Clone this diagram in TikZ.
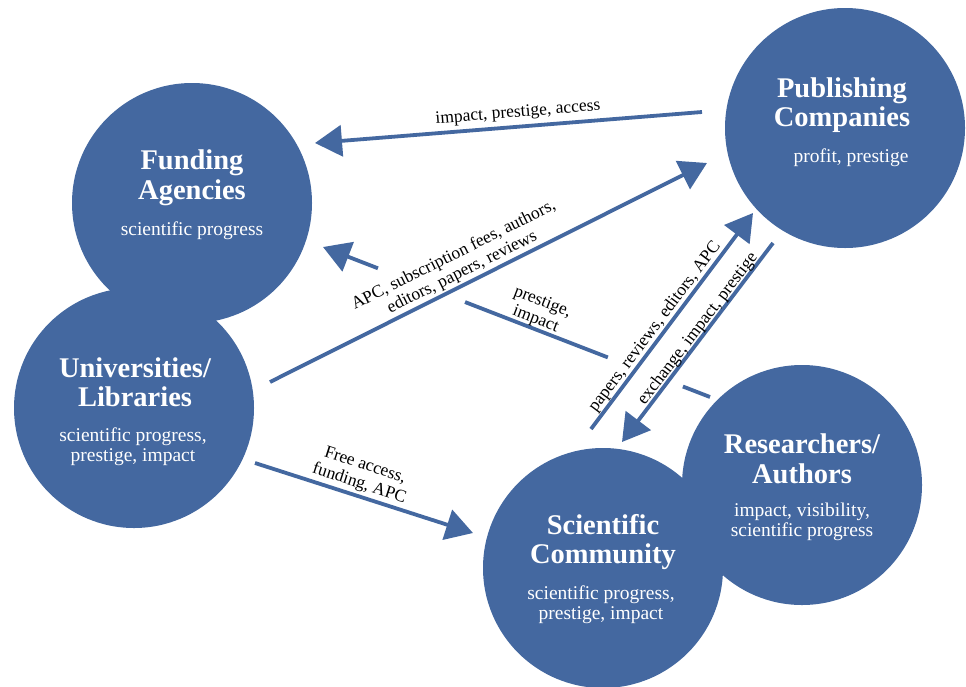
\documentclass[tikz,border=0pt]{standalone}
\usepackage{fontspec}
\setmainfont{Liberation Serif}
\usetikzlibrary{arrows.meta,calc}
\definecolor{nodeblue}{RGB}{68,104,160}
\begin{document}
\begin{tikzpicture}[x=1pt,y=-1pt,
  blob/.style={circle,fill=nodeblue,draw=none,minimum size=240pt,inner sep=0pt},
  ttl/.style={text=white,font=\fontsize{28.5}{29.5}\selectfont\bfseries,align=center,inner sep=0pt},
  sub/.style={text=white,font=\fontsize{19.5}{20}\selectfont,align=center,inner sep=0pt},
  lbl/.style={text=black,font=\fontsize{17.5}{19}\selectfont,align=center,inner sep=0pt},
  conn/.style={draw=nodeblue,line width=3.8pt,-{Triangle[length=27pt,width=31pt]}},
  plainconn/.style={draw=nodeblue,line width=3.8pt},
]
\fill[white] (0,0) rectangle (966,686);
\useasboundingbox (0,0) rectangle (966,686);

% circles
\node[blob] (fund) at (192,203) {};
\node[blob] (univ) at (134,408) {};
\node[blob] (pub)  at (845,128) {};
\node[blob] (sci)  at (603,568) {};
\node[blob] (res)  at (802,485) {};

% texts in circles
\node[ttl] (fundT) at (192,178) {Funding\\Agencies};
\node[sub] (fundS) at (192,231) {scientific progress};
\node[ttl] (pubT) at (842,105) {Publishing\\Companies};
\node[sub] (pubS) at (851,158) {profit, prestige};
\node[ttl] (univT) at (135,382) {Universities/\\Libraries};
\node[sub] (univS) at (133,447) {scientific progress,\\prestige, impact};
\node[ttl] (sciT) at (603,542) {Scientific\\Community};
\node[sub] (sciS) at (601,605) {scientific progress,\\prestige, impact};
\node[ttl] (resT) at (802,459) {Researchers/\\Authors};
\node[sub] (resS) at (802,522) {impact, visibility,\\scientific progress};

% connector end points
\coordinate (a1s) at (702,112);
\coordinate (a1e) at (315,143);
\coordinate (a2s) at (270,382);
\coordinate (a2e) at (707,163);
\coordinate (a3s) at (255,463);
\coordinate (a3e) at (473,533);
\coordinate (a4s) at (591,429);
\coordinate (a4e) at (753,213);
\coordinate (a5s) at (773,243);
\coordinate (a5e) at (622,442);
\coordinate (a6s) at (710,397);
\coordinate (a6e) at (323,247);

% connectors
\draw[conn] (a1s) -- (a1e);
\draw[conn] (a2s) -- (a2e);
\draw[conn] (a3s) -- (a3e);
\draw[conn] (a4s) -- (a4e);
\draw[conn] (a5s) -- (a5e);
\draw[plainconn] (a6s) -- ($(a6s)!0.07!(a6e)$);
\draw[plainconn] ($(a6s)!0.264!(a6e)$) -- ($(a6s)!0.633!(a6e)$);
\draw[conn] ($(a6s)!0.858!(a6e)$) -- (a6e);

% labels
\node[lbl,rotate=4.6] (l1) at (518,113) {impact, prestige, access};
\node[lbl,rotate=26.6] (l2) at (458,264) {APC, subscription fees, authors,\\editors, papers, reviews};
\node[lbl,rotate=-18] (l3) at (362,475) {Free access,\\funding, APC};
\node[lbl,rotate=53.1] (l4) at (655,327) {papers, reviews, editors, APC};
\node[lbl,rotate=52.8] (l5) at (698,329) {exchange, impact, prestige};
\node[lbl,rotate=-21.2] (l6) at (539,311) {prestige,\\impact};
\end{tikzpicture}
\end{document}
